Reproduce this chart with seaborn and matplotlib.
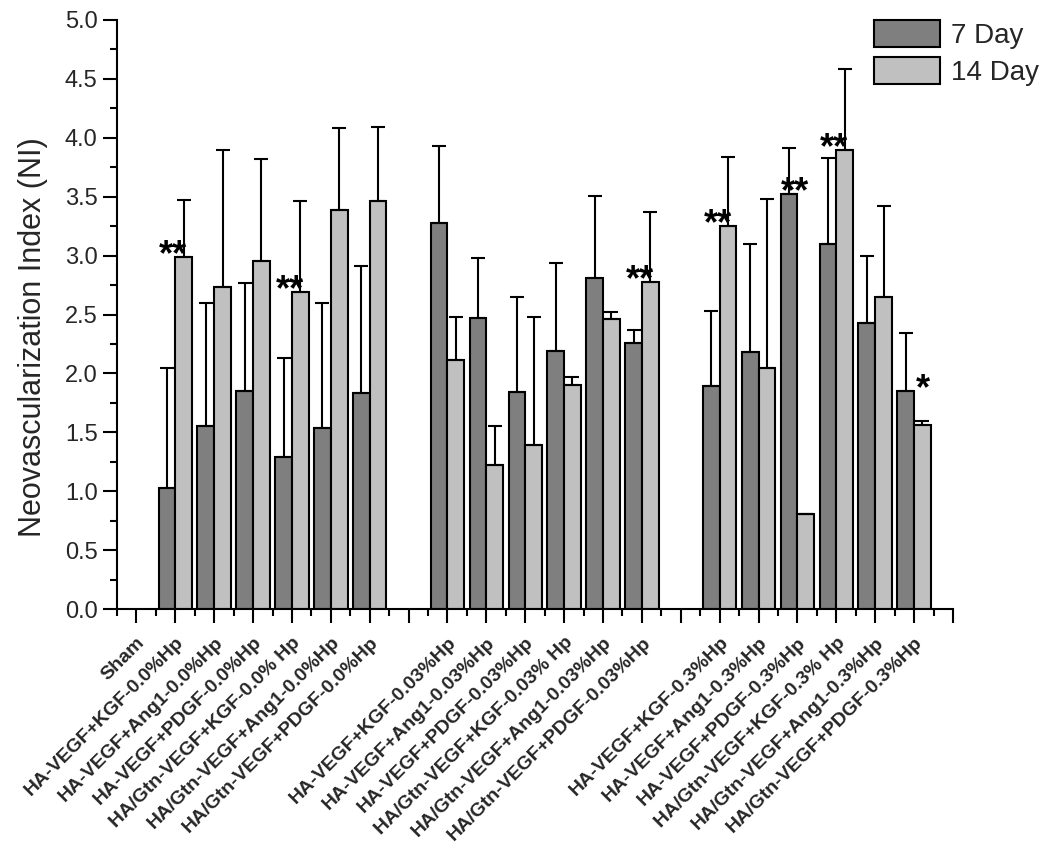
import numpy as np
import pandas as pd
import seaborn as sns
import matplotlib
matplotlib.use("Agg")
import matplotlib.pyplot as plt
from matplotlib.ticker import FixedLocator, MultipleLocator, FormatStrFormatter

# group labels (blank strings are the empty spacer slots between groups)
categories = [
    "Sham",
    "HA-VEGF+KGF-0.0%Hp", "HA-VEGF+Ang1-0.0%Hp", "HA-VEGF+PDGF-0.0%Hp",
    "HA/Gtn-VEGF+KGF-0.0% Hp", "HA/Gtn-VEGF+Ang1-0.0%Hp", "HA/Gtn-VEGF+PDGF-0.0%Hp",
    "",
    "HA-VEGF+KGF-0.03%Hp", "HA-VEGF+Ang1-0.03%Hp", "HA-VEGF+PDGF-0.03%Hp",
    "HA/Gtn-VEGF+KGF-0.03% Hp", "HA/Gtn-VEGF+Ang1-0.03%Hp", "HA/Gtn-VEGF+PDGF-0.03%Hp",
    " ",
    "HA-VEGF+KGF-0.3%Hp", "HA-VEGF+Ang1-0.3%Hp", "HA-VEGF+PDGF-0.3%Hp",
    "HA/Gtn-VEGF+KGF-0.3% Hp", "HA/Gtn-VEGF+Ang1-0.3%Hp", "HA/Gtn-VEGF+PDGF-0.3%Hp",
]
nan = np.nan
day7 = [nan, 1.03, 1.55, 1.85, 1.29, 1.54, 1.83,
        nan, 3.28, 2.47, 1.84, 2.19, 2.81, 2.26,
        nan, 1.89, 2.18, 3.52, 3.10, 2.43, 1.85]
day7_err = [nan, 1.02, 1.05, 0.92, 0.84, 1.06, 1.08,
            nan, 0.65, 0.51, 0.81, 0.75, 0.70, 0.11,
            nan, 0.64, 0.92, 0.39, 0.73, 0.57, 0.49]
day14 = [nan, 2.99, 2.73, 2.95, 2.69, 3.39, 3.46,
         nan, 2.11, 1.22, 1.39, 1.90, 2.46, 2.78,
         nan, 3.25, 2.05, 0.81, 3.90, 2.65, 1.56]
day14_err = [nan, 0.48, 1.17, 0.87, 0.77, 0.69, 0.63,
             nan, 0.37, 0.33, 1.09, 0.07, 0.06, 0.59,
             nan, 0.59, 1.43, 0.00, 0.68, 0.77, 0.04]
stars = {1: "**", 4: "**", 13: "**", 15: "**", 17: "**", 18: "**", 20: "*"}
days = ["7 Day", "14 Day"]

rows = []
for i, cat in enumerate(categories):
    for day, vals, errs in [(days[0], day7, day7_err), (days[1], day14, day14_err)]:
        if not np.isnan(vals[i]):
            rows.append({"group": cat, "day": day, "NI": vals[i], "err": errs[i]})
df = pd.DataFrame(rows)

sns.set_style("ticks")
plt.rcParams["font.family"] = ["Liberation Sans", "DejaVu Sans"]

fig = plt.figure(figsize=(10.5, 8.5), dpi=100)
ax = fig.add_axes([0.1114, 0.2835, 0.7962, 0.6930])

sns.barplot(data=df, x="group", y="NI", hue="day", order=categories, hue_order=days,
            palette={"7 Day": "#7f7f7f", "14 Day": "#c0c0c0"}, saturation=1,
            width=0.86, errorbar=None, edgecolor="black", linewidth=1.5, ax=ax)

# upper-only error bars, placed on the bars seaborn drew
err_lookup = {(r.group, r.day): r.err for r in df.itertuples()}
light_centres = {}
for day, cont in zip(days, ax.containers):
    xs, ys, es = [], [], []
    for p in cont.patches:
        xc = p.get_x() + p.get_width() / 2
        idx = int(round(xc))
        xs.append(xc)
        ys.append(p.get_height())
        es.append(err_lookup[(categories[idx], day)])
        if day == "14 Day":
            light_centres[idx] = xc
    es = np.array(es)
    ax.errorbar(xs, ys, yerr=[np.zeros_like(es), es], fmt="none", ecolor="black",
                elinewidth=1.5, capsize=5, capthick=1.5, zorder=3)

for idx, txt in stars.items():
    top = np.nanmax([day7[idx], day14[idx]])
    x = idx - 0.05 if txt == "**" else light_centres[idx]
    ax.text(x, top - 0.07, txt, ha="center", va="baseline", fontsize=26,
            fontweight="bold", color="black")

ax.set_xlim(-0.5, 21)
ax.set_ylim(0, 5)
ax.set_xticks(range(22))
ax.set_xticklabels(categories + [""], rotation=45, ha="right",
                   rotation_mode="anchor", fontsize=14, fontweight="bold")
ax.xaxis.set_minor_locator(FixedLocator(np.arange(-0.5, 21, 1.0)))
ax.yaxis.set_major_locator(MultipleLocator(0.5))
ax.yaxis.set_minor_locator(MultipleLocator(0.25))
ax.yaxis.set_major_formatter(FormatStrFormatter("%.1f"))
ax.tick_params(axis="both", which="major", direction="out", length=10, width=1.5,
               color="black")
ax.tick_params(axis="both", which="minor", direction="out", length=5, width=1.5,
               color="black")
ax.tick_params(axis="y", labelsize=17, pad=4)
ax.tick_params(axis="x", pad=8)
ax.set_xlabel("")
ax.set_ylabel("Neovascularization Index (NI)", fontsize=22)
ax.yaxis.set_label_coords(-0.083, 0.462)
sns.despine(ax=ax)
for s in ["left", "bottom"]:
    ax.spines[s].set_linewidth(1.5)
    ax.spines[s].set_color("black")

handles, labels = ax.get_legend_handles_labels()
ax.legend(handles, labels, loc="upper left", bbox_to_anchor=(0.905, 1.0),
          frameon=False, fontsize=20, handlelength=2.4, handleheight=1.1,
          handletextpad=0.4, labelspacing=0.3, borderpad=0, borderaxespad=0)

fig.savefig("out.png", dpi=100)
